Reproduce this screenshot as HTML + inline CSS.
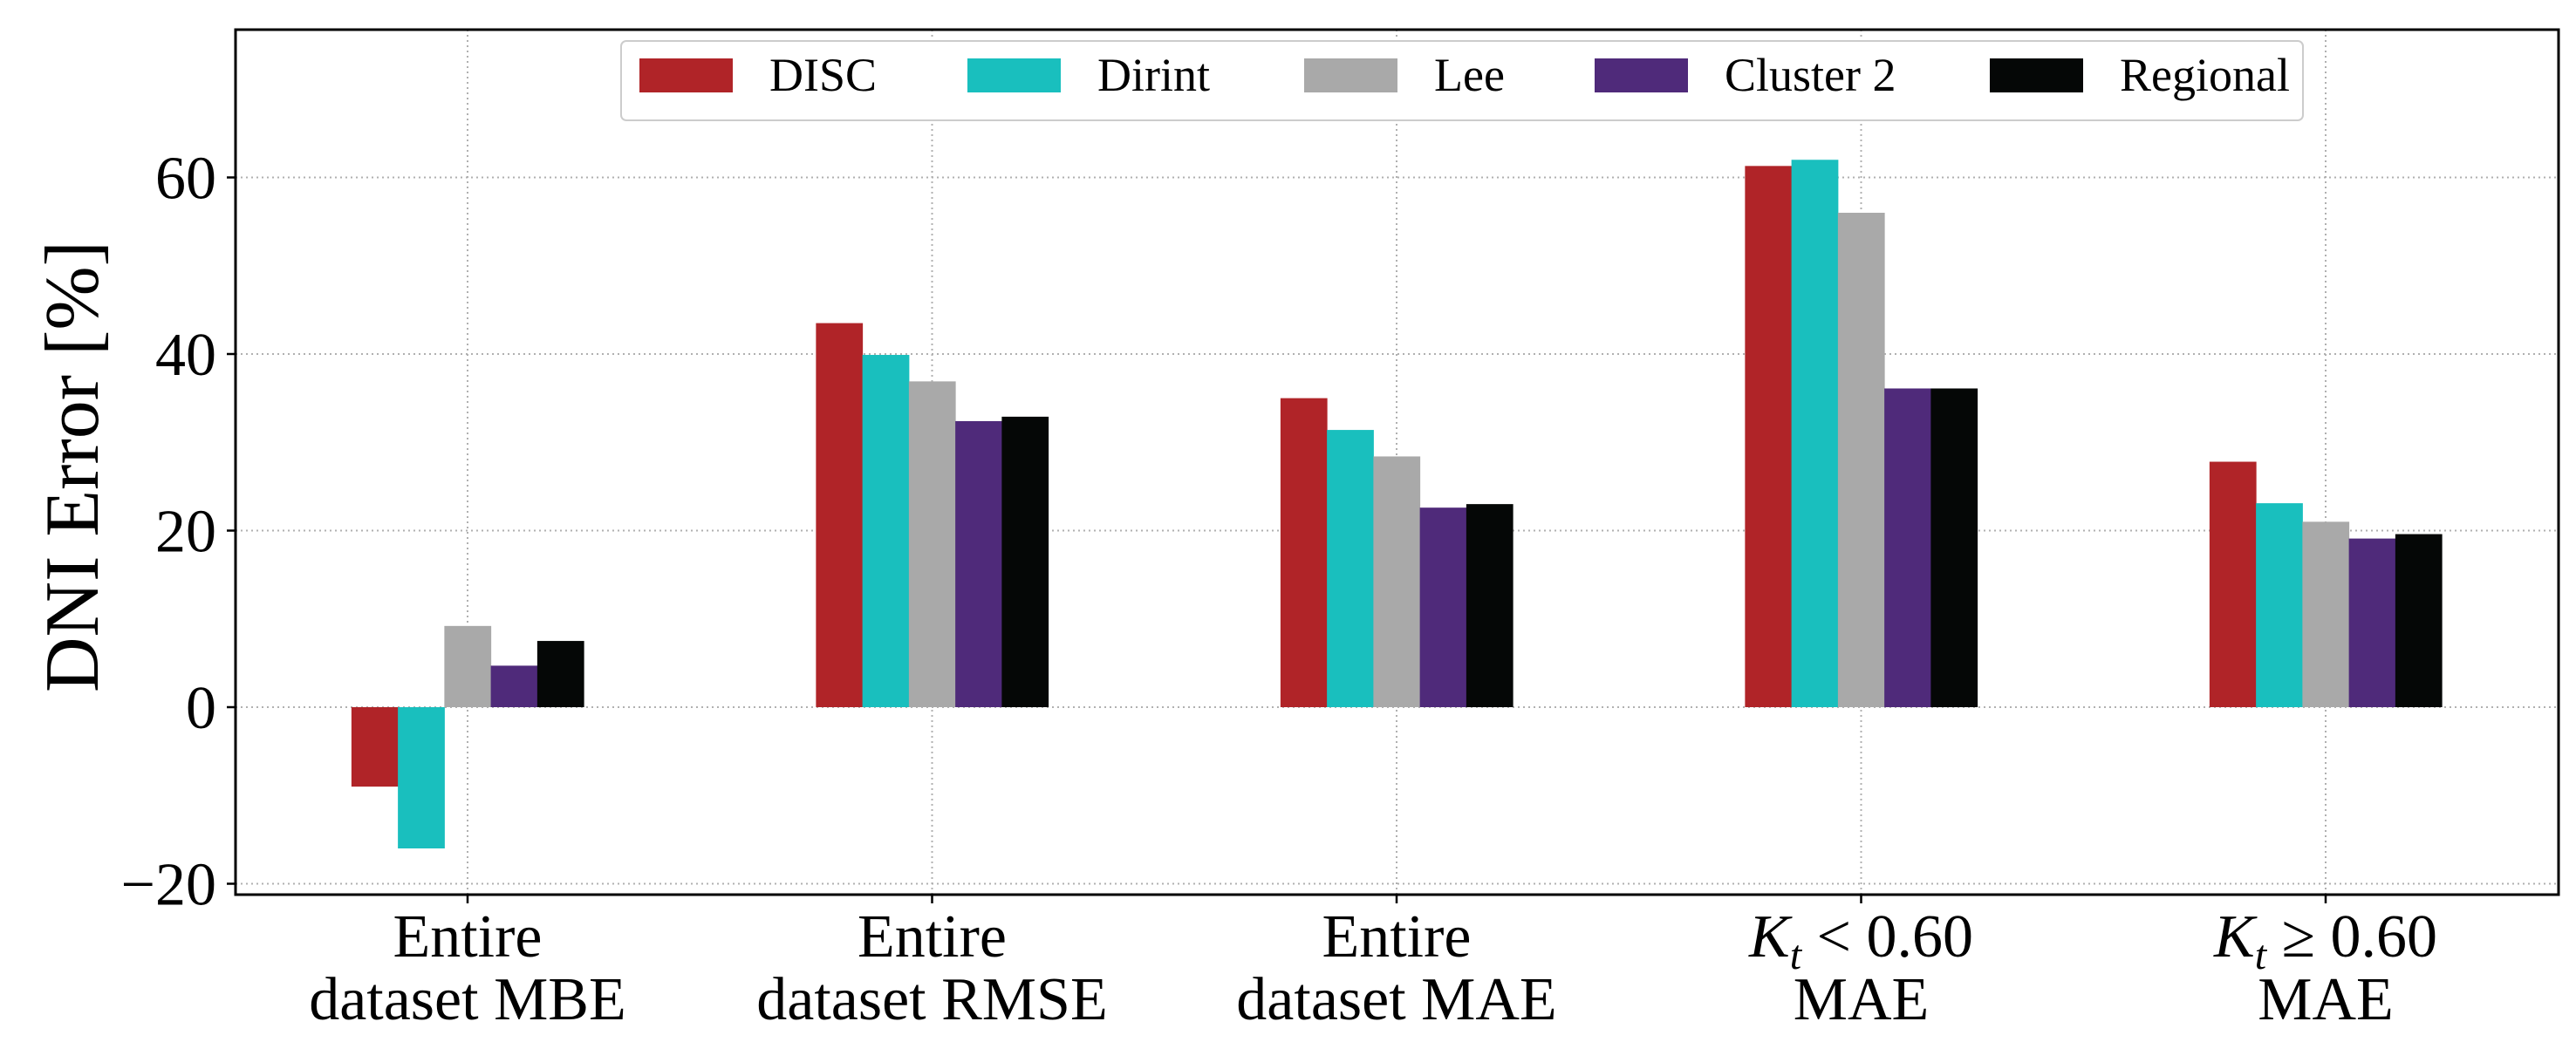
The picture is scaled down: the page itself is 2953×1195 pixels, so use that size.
<!DOCTYPE html>
<html><head><meta charset="utf-8"><style>
html,body{margin:0;padding:0;background:#fff;}
svg{display:block;font-family:"Liberation Serif",serif;}
</style></head><body>
<svg id="chart" width="2953" height="1195" xmlns="http://www.w3.org/2000/svg">
<g id="grid"></g>
<g id="bars"></g>
<rect x="270" y="34" width="2663" height="992" fill="none" stroke="#000" stroke-width="3"/>
<g id="yticks"></g>
<g id="xticks"></g>
<text transform="translate(112,535) rotate(-90)" text-anchor="middle" font-size="88">DNI Error [%]</text>
<g>
<rect x="712" y="47" width="1928" height="91" rx="6" fill="#fff" stroke="#ccc" stroke-width="2"/>
<g id="legend-items"></g>
</g>
</svg>
<script>
const categories = [["Entire","dataset MBE"],["Entire","dataset RMSE"],["Entire","dataset MAE"],["Kt<","MAE"],["Kt>=","MAE"]];
const seriesNames = ["DISC","Dirint","Lee","Cluster 2","Regional"];
const seriesColors = ["#b02428","#19bfbe","#a9a9a9","#4f2a7a","#050706"];
const disc = [-9.0, 43.5, 35.0, 61.3, 27.8];
const dirint = [-16.0, 39.9, 31.4, 62.0, 23.1];
const lee = [9.2, 36.9, 28.4, 56.0, 21.0];
const cluster2 = [4.7, 32.4, 22.6, 36.1, 19.1];
const regional = [7.5, 32.9, 23.0, 36.1, 19.6];
const yTicks = [-20, 0, 20, 40, 60];
const yTickLabels = ["\u221220", "0", "20", "40", "60"];

const NS = "http://www.w3.org/2000/svg";
const series = [disc, dirint, lee, cluster2, regional];
const zeroY = 811, pxPer = 202.5/20;
function y(v){ return zeroY - v*pxPer; }
const gx0 = 536, gStep = 532.5, bw = 53.25;
function x(i){ return gx0 + i*gStep; }
function mk(tag, attrs, parent){ const e=document.createElementNS(NS,tag); for(const k in attrs) e.setAttribute(k,attrs[k]); parent.appendChild(e); return e; }

const grid=document.getElementById('grid');
yTicks.forEach((t)=>{
  const l=mk('line',{x1:270,x2:2933,y1:y(t),y2:y(t),stroke:'#b0b0b0','stroke-width':2,'stroke-dasharray':'2,4'},grid);
  
  
});
categories.forEach((c,i)=>{
  const l=mk('line',{x1:x(i),x2:x(i),y1:34,y2:1026,stroke:'#b0b0b0','stroke-width':2,'stroke-dasharray':'2,4'},grid);
  
  
});

const bars=document.getElementById('bars');
series.forEach((s,si)=>{
  s.forEach((v,i)=>{
    const bx = x(i) - 2.5*bw + si*bw;
    const top = Math.min(y(v), y(0)), h = Math.abs(y(v)-y(0));
    const r=mk('rect',{x:bx,y:top,width:bw+0.5,height:h,fill:seriesColors[si]},bars);
    
    
  });
});

const yt=document.getElementById('yticks');
yTicks.forEach((t,i)=>{
  mk('line',{x1:260,x2:270,y1:y(t),y2:y(t),stroke:'#000','stroke-width':2.5},yt);
  const tx=mk('text',{x:248,y:y(t)+24,'text-anchor':'end','font-size':70},yt);
  tx.textContent=yTickLabels[i];
  
  
});

const xt=document.getElementById('xticks');
categories.forEach((c,i)=>{
  mk('line',{x1:x(i),x2:x(i),y1:1026,y2:1036,stroke:'#000','stroke-width':2.5},xt);
  const t1=mk('text',{x:x(i),y:1097,'text-anchor':'middle','font-size':70},xt);
  if(c[0]==="Kt<"){ t1.innerHTML='<tspan font-style="italic">K</tspan><tspan font-style="italic" font-size="48" dy="14">t</tspan><tspan dy="-14"> &lt; 0.60</tspan>'; }
  else if(c[0]==="Kt>="){ t1.innerHTML='<tspan font-style="italic">K</tspan><tspan font-style="italic" font-size="48" dy="14">t</tspan><tspan dy="-14"> \u2265 0.60</tspan>'; }
  else t1.textContent=c[0];
  
  
  const t2=mk('text',{x:x(i),y:1169,'text-anchor':'middle','font-size':70},xt);
  t2.textContent=c[1];
  
  
});

const li=document.getElementById('legend-items');
const lx=[733,1109,1495,1828,2281];
seriesNames.forEach((n,i)=>{
  const r=mk('rect',{x:lx[i],y:67,width:107,height:39,fill:seriesColors[i]},li);
  
  
  const t=mk('text',{x:lx[i]+149,y:104,'font-size':54},li);
  t.textContent=n;
  
  
});
</script>
</body></html>
